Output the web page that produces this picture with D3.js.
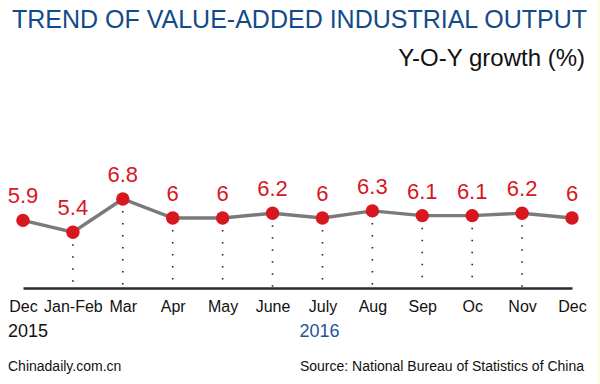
<!DOCTYPE html>
<html>
<head>
<meta charset="utf-8">
<script src="https://cdn.jsdelivr.net/npm/d3@7"></script>
<style>
  body { margin: 0; background: #fff; }
  svg { display: block; font-family: "Liberation Sans", Arial, sans-serif; }
</style>
</head>
<body>
<div id="chart"></div>
<script>
const months = ['Dec', 'Jan-Feb', 'Mar', 'Apr', 'May', 'June', 'July', 'Aug', 'Sep', 'Oc', 'Nov', 'Dec '];
const growth = [5.9, 5.4, 6.8, 6, 6, 6.2, 6, 6.3, 6.1, 6.1, 6.2, 6];
const years = [
    {label: '2015', month: 'Dec', color: '#111'},
    {label: '2016', month: 'July', color: '#1d5597'},
];

const width = 600;
const height = 384;

const svg = d3.select('#chart')
    .append('svg')
    .attr('width', width)
    .attr('height', height);

svg.append('rect')
    .attr('width', width)
    .attr('height', height)
    .attr('fill', '#fff');

// faint yellow strip on the right edge
svg.append('rect')
    .attr('x', 597)
    .attr('width', 3)
    .attr('height', height)
    .attr('fill', '#fffbe8');

const data = months.map((m, i) => ({month: m, value: growth[i]}));

const xScale = d3.scalePoint()
    .domain(months)
    .range([23, 572]);

const yScale = d3.scaleLinear()
    .domain([5, 7])
    .range([241.75, 194.25]);

const axisY = 288;

// title
svg.append('text')
    .attr('x', 12)
    .attr('y', 28)
    .attr('font-size', 25)
    .attr('fill', '#134a8a')
    .text('TREND OF VALUE-ADDED INDUSTRIAL OUTPUT');

svg.append('text')
    .attr('x', 585)
    .attr('y', 66)
    .attr('text-anchor', 'end')
    .attr('font-size', 24)
    .attr('fill', '#111')
    .text('Y-O-Y growth (%)');

// dotted drop lines (not on the two ends)
svg.append('g')
    .selectAll('line')
    .data(data.slice(1, -1))
    .join('line')
    .attr('x1', d => xScale(d.month))
    .attr('x2', d => xScale(d.month))
    .attr('y1', d => yScale(d.value) + 12)
    .attr('y2', axisY - 1)
    .attr('stroke', '#222')
    .attr('stroke-width', 1.6)
    .attr('stroke-dasharray', '1.6,10.4');

// x axis
const xAxis = d3.axisBottom(xScale)
    .tickSize(0)
    .tickPadding(12.6);

const gx = svg.append('g')
    .attr('transform', `translate(0, ${axisY})`)
    .call(xAxis);

gx.select('.domain')
    .attr('stroke', '#2a2a2a')
    .attr('stroke-width', 2.7);

gx.selectAll('text')
    .attr('font-size', 16)
    .attr('font-family', '"Liberation Sans", Arial, sans-serif')
    .attr('fill', '#111')
    .text(d => d.trim());

// year labels
svg.append('g')
    .selectAll('text')
    .data(years)
    .join('text')
    .attr('x', (d, i) => i === 0 ? 8 : xScale(d.month) - 3)
    .attr('y', 337)
    .attr('text-anchor', (d, i) => i === 0 ? 'start' : 'middle')
    .attr('font-size', 18)
    .attr('fill', d => d.color)
    .text(d => d.label);

// line
const lineGenerator = d3.line()
    .x(d => xScale(d.month))
    .y(d => yScale(d.value));

svg.append('path')
    .attr('d', lineGenerator(data))
    .attr('fill', 'none')
    .attr('stroke', '#7a7a7a')
    .attr('stroke-width', 3.4);

svg.append('g')
    .selectAll('circle')
    .data(data)
    .join('circle')
    .attr('cx', d => xScale(d.month))
    .attr('cy', d => yScale(d.value))
    .attr('r', 6.7)
    .attr('fill', '#d8161f');

svg.append('g')
    .selectAll('text')
    .data(data)
    .join('text')
    .attr('x', d => xScale(d.month))
    .attr('y', d => yScale(d.value) - 17)
    .attr('text-anchor', 'middle')
    .attr('font-size', 22)
    .attr('fill', '#d8161f')
    .text(d => d.value);

// footer
svg.append('text')
    .attr('x', 8)
    .attr('y', 371)
    .attr('font-size', 14)
    .attr('fill', '#111')
    .text('Chinadaily.com.cn');

svg.append('text')
    .attr('x', 584)
    .attr('y', 371)
    .attr('text-anchor', 'end')
    .attr('font-size', 14)
    .attr('fill', '#111')
    .text('Source: National Bureau of Statistics of China');
</script>
</body>
</html>
